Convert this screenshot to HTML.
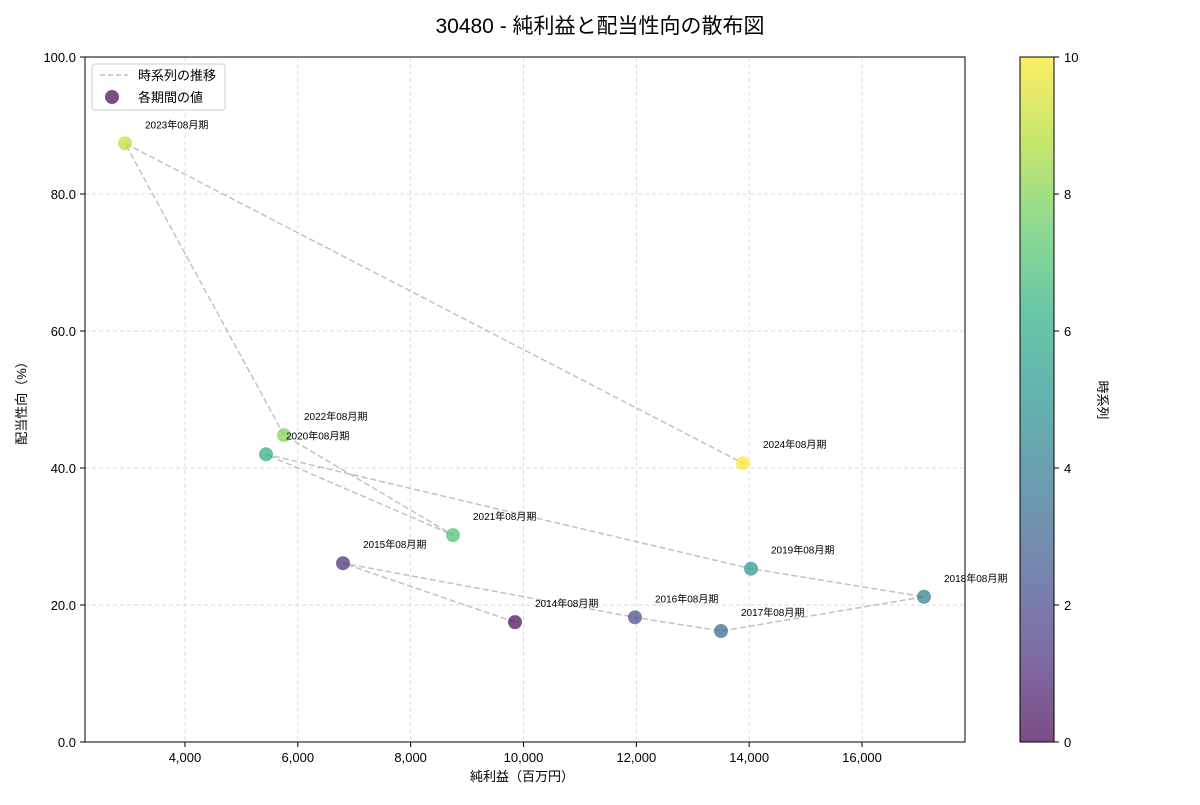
<!DOCTYPE html>
<html><head><meta charset="utf-8">
<style>
body{margin:0;background:#fff;}
svg text{font-family:"Liberation Sans","Noto Sans CJK JP",sans-serif;}
</style></head>
<body>
<svg id="chart" width="1200" height="800" viewBox="0 0 1200 800" xmlns="http://www.w3.org/2000/svg">
<defs>
<linearGradient id="vir" x1="0" y1="1" x2="0" y2="0">
<stop offset="0" stop-color="#440154"/><stop offset="0.125" stop-color="#472d7b"/><stop offset="0.25" stop-color="#3b528b"/><stop offset="0.375" stop-color="#2c728e"/><stop offset="0.5" stop-color="#21918c"/><stop offset="0.625" stop-color="#28ae80"/><stop offset="0.75" stop-color="#5ec962"/><stop offset="0.875" stop-color="#addc30"/><stop offset="1" stop-color="#fde725"/>
</linearGradient>
</defs>
<text x="600" y="33" text-anchor="middle" font-size="21" fill="#000">30480 - 純利益と配当性向の散布図</text>
<g id="grid"></g>
<g id="lines"></g>
<g id="points"></g>
<g id="labels"></g>
<rect x="85" y="57" width="880" height="685" fill="none" stroke="#000" stroke-width="1"/>
<g id="xticks"></g><g id="yticks"></g>
<text x="522" y="781" text-anchor="middle" font-size="13">純利益（百万円）</text>
<text transform="translate(26,400) rotate(-90)" text-anchor="middle" font-size="13">配当性向（%）</text>
<g>
<rect x="92" y="64" width="133" height="46" rx="3" fill="#fff" fill-opacity="0.8" stroke="#ccc"/>
<line x1="100" y1="75" x2="128" y2="75" stroke="#999" stroke-opacity="0.6" stroke-width="1.5" stroke-dasharray="5,3"/>
<text x="138" y="80" font-size="13">時系列の推移</text>
<circle cx="112" cy="97" r="7" fill="#440154" fill-opacity="0.7"/>
<text x="138" y="102" font-size="13">各期間の値</text>
</g>
<rect x="1020" y="57" width="34" height="685" fill="url(#vir)" fill-opacity="0.7" stroke="#000" stroke-width="1"/>
<g id="cticks"></g>
<text transform="translate(1098,400) rotate(90)" text-anchor="middle" font-size="13">時系列</text>
</svg>
<script>
const periods=["2014年08月期","2015年08月期","2016年08月期","2017年08月期","2018年08月期","2019年08月期","2020年08月期","2021年08月期","2022年08月期","2023年08月期","2024年08月期"];
const netIncome=[9849,6801,11976,13500,17098,14032,5436,8750,5755,2937,13890];
const payoutRatio=[17.5,26.1,18.2,16.2,21.2,25.3,42.0,30.2,44.8,87.4,40.7];
const xTicks=[4000,6000,8000,10000,12000,14000,16000];
const yTicks=[0,20,40,60,80,100];
const cTicks=[0,2,4,6,8,10];
const NS="http://www.w3.org/2000/svg";
const X=v=>-40.7+v*0.05642;
const Y=v=>742-v*6.85;
const C=v=>742-v*68.5;
const vir=[[68,1,84],[71,45,123],[59,82,139],[44,114,142],[33,145,140],[40,174,128],[94,201,98],[173,220,48],[253,231,37]];
function col(t){const p=t*8,i=Math.min(7,Math.floor(p)),f=p-i;const a=vir[i],b=vir[i+1];return `rgb(${a.map((c,k)=>Math.round(c+(b[k]-c)*f)).join(',')})`;}
function mk(tag,attrs,parent,text){const e=document.createElementNS(NS,tag);for(const k in attrs)e.setAttribute(k,attrs[k]);if(text!==undefined)e.textContent=text;document.getElementById(parent).appendChild(e);return e;}
xTicks.forEach(t=>{
 const g=mk('line',{x1:X(t),x2:X(t),y1:57,y2:742,stroke:'#cfcfcf','stroke-dasharray':'4,3','stroke-width':0.7},'grid');
 
 
 mk('line',{x1:X(t),x2:X(t),y1:742,y2:747,stroke:'#000'},'xticks');
 const l=mk('text',{x:X(t),y:762,'text-anchor':'middle','font-size':13},'xticks',t.toLocaleString('en-US'));
 
 
});
yTicks.forEach(t=>{
 if(t>0&&t<100){const g=mk('line',{x1:85,x2:965,y1:Y(t),y2:Y(t),stroke:'#cfcfcf','stroke-dasharray':'4,3','stroke-width':0.7},'grid');
 
 }
 mk('line',{x1:80,x2:85,y1:Y(t),y2:Y(t),stroke:'#000'},'yticks');
 const l=mk('text',{x:76,y:Y(t)+5,'text-anchor':'end','font-size':13},'yticks',t.toFixed(1));
 
 
});
cTicks.forEach(t=>{
 mk('line',{x1:1054,x2:1059,y1:C(t),y2:C(t),stroke:'#000'},'cticks');
 const l=mk('text',{x:1064,y:C(t)+5,'font-size':13},'cticks',String(t));
 
 
});
const pts=netIncome.map((v,i)=>X(v)+','+Y(payoutRatio[i])).join(' ');
const pl=mk('polyline',{points:pts,fill:'none',stroke:'#999','stroke-opacity':0.6,'stroke-width':1.5,'stroke-dasharray':'6,3'},'lines');


netIncome.forEach((v,i)=>{
 const c=mk('circle',{cx:X(v),cy:Y(payoutRatio[i]),r:7,fill:col(i/(netIncome.length-1)),'fill-opacity':0.7},'points');
 
 
 const t=mk('text',{x:X(v)+20,y:Y(payoutRatio[i])-15,'font-size':10},'labels',periods[i]);
 
 
});
</script>
</body></html>
